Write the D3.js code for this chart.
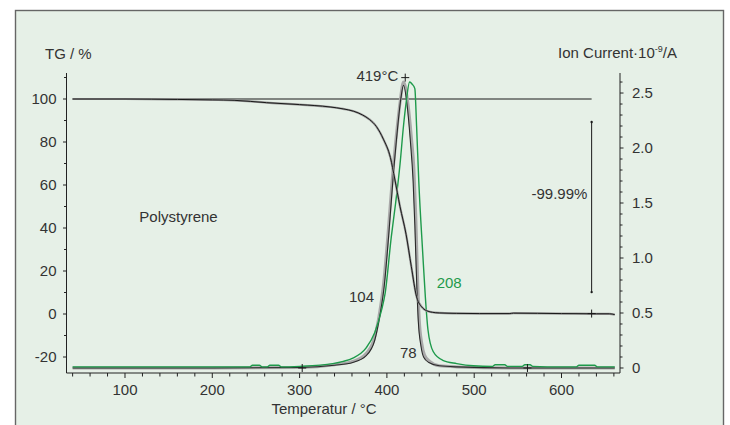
<!DOCTYPE html>
<html>
<head>
<meta charset="utf-8">
<script src="https://cdn.jsdelivr.net/npm/d3@7"></script>
<style>
  html, body { margin: 0; padding: 0; background: #ffffff; }
  svg { display: block; font-family: "Liberation Sans", Arial, sans-serif; }
</style>
</head>
<body>
<svg id="chart" width="730" height="425"></svg>
<script>
// ---------------- data ----------------
const xTicks = [100, 200, 300, 400, 500, 600];
const tgTicks = [-20, 0, 20, 40, 60, 80, 100];
const icTicks = [0, 0.5, 1.0, 1.5, 2.0, 2.5];
const icTickLabels = ["0", "0.5", "1.0", "1.5", "2.0", "2.5"];

// TG curve (temperature °C, mass %)
const tgTemp = [40, 100, 160, 200, 225, 262, 300, 335, 350, 362, 372, 380, 388, 396, 404, 409, 415, 422, 428, 434, 441, 447, 452, 460, 480, 506, 540, 545, 600, 640, 655, 661];
const tgMass = [100, 100, 99.8, 99.6, 99.4, 98.3, 97.4, 96.3, 95.4, 94.3, 92.6, 90.5, 87.2, 81.3, 72.8, 62.8, 50, 37, 22, 8, 2.8, 1.3, 0.8, 0.5, 0.3, 0.2, 0.2, 0.4, 0.2, 0.1, 0.1, -0.3];

// Ion current m/z 104 (grey)
const ic104Temp = [40, 100, 200, 300, 340, 361, 376, 386, 392, 396, 401, 407, 410, 415, 419, 424, 428, 431, 433, 435, 437, 440, 443, 449, 460, 480, 550, 620, 661];
const ic104Val  = [0, 0, 0, 0.005, 0.03, 0.06, 0.13, 0.28, 0.52, 0.75, 1.19, 1.8, 2.05, 2.41, 2.6, 2.41, 2.1, 1.8, 1.4, 0.85, 0.45, 0.22, 0.12, 0.06, 0.02, 0.01, 0, 0, 0];

// Ion current m/z 78 (black)
const ic78Temp = [40, 100, 200, 300, 340, 361, 376, 386, 392, 397, 402, 408, 411, 416, 419, 423, 427, 430, 432, 434, 436, 439, 442, 448, 460, 480, 550, 620, 661];
const ic78Val  = [0, 0, 0, 0.005, 0.025, 0.05, 0.11, 0.25, 0.48, 0.75, 1.2, 1.82, 2.08, 2.45, 2.57, 2.4, 2.05, 1.7, 1.3, 0.8, 0.42, 0.2, 0.1, 0.05, 0.02, 0.01, 0, 0, 0];

// Ion current m/z 208 (green)
const ic208Temp = [40, 100, 150, 200, 243, 246, 254, 257, 263, 266, 276, 279, 300, 338, 350, 361, 376, 386, 394, 398, 405, 410, 415, 419, 422, 426, 429, 432, 434, 436.5, 441, 444, 447, 453, 464, 480, 499, 521, 524, 535, 538, 555, 558, 564, 567, 600, 617, 620, 638, 641, 661];
const ic208Val  = [0.01, 0.01, 0.01, 0.01, 0.01, 0.025, 0.025, 0.01, 0.01, 0.025, 0.025, 0.01, 0.015, 0.04, 0.06, 0.09, 0.18, 0.32, 0.53, 0.68, 1.19, 1.5, 1.85, 2.2, 2.41, 2.6, 2.58, 2.54, 2.2, 1.7, 1.05, 0.65, 0.35, 0.15, 0.07, 0.04, 0.02, 0.015, 0.03, 0.03, 0.015, 0.015, 0.03, 0.03, 0.015, 0.01, 0.01, 0.025, 0.025, 0.01, 0.01];

// reference line TG = 100 %
const refLineTemp = [40, 634.5];
const refLineMass = 100;

// mass step annotation
const stepTemp = 634.5;
const stepFrom = 89.3;
const stepTo = 10.2;

// cross markers
const crossTG = [[634.5, 0.2]];
const crossIC = [[421, 2.64], [303, 0], [561, 0]];

// text annotations
const notes = [
  { text: "419°C",      T: 413,   v: 2.61, axis: "R", anchor: "end",   color: "#333" },
  { text: "Polystyrene", T: 116.4, v: 42.9, axis: "L", anchor: "start", color: "#333" },
  { text: "104",        T: 356.6, v: 0.6,  axis: "R", anchor: "start", color: "#333" },
  { text: "78",         T: 415,   v: 0.088, axis: "R", anchor: "start", color: "#333" },
  { text: "208",        T: 457,   v: 0.725, axis: "R", anchor: "start", color: "#1f9a4c" },
  { text: "-99.99%",    T: 629.6, v: 53.5, axis: "L", anchor: "end",   color: "#333" }
];

// ---------------- layout ----------------
const svg = d3.select("#chart");
const textColor = "#333";
const fs = 15;

svg.append("rect")
  .attr("x", 15.5).attr("y", 10.5)
  .attr("width", 708).attr("height", 430)
  .attr("fill", "#e6f0e7")
  .attr("stroke", "#666").attr("stroke-width", 1.4);

const x = d3.scaleLinear().domain([33, 667]).range([66.5, 620]);
const yL = d3.scaleLinear().domain([-27.44, 112.1]).range([373, 73]);
const yR = d3.scaleLinear().domain([-0.0455, 2.682]).range([373, 73]);

// axes lines
const axisColor = "#222";
const g = svg.append("g");
g.append("line").attr("x1", x.range()[0]).attr("x2", x.range()[0]).attr("y1", 73).attr("y2", 373)
  .attr("stroke", axisColor).attr("stroke-width", 1);
g.append("line").attr("x1", x.range()[1]).attr("x2", x.range()[1]).attr("y1", 73).attr("y2", 373)
  .attr("stroke", axisColor).attr("stroke-width", 1);
g.append("line").attr("x1", x.range()[0]).attr("x2", x.range()[1]).attr("y1", 373).attr("y2", 373)
  .attr("stroke", axisColor).attr("stroke-width", 1);

// x ticks
const xMinor = d3.range(40, 661, 20);
g.selectAll(".xt").data(xMinor).join("line")
  .attr("x1", d => x(d)).attr("x2", d => x(d))
  .attr("y1", 373).attr("y2", d => 373 + (d % 100 === 0 ? 5 : 3.5))
  .attr("stroke", axisColor).attr("stroke-width", 1);
g.selectAll(".xl").data(xTicks).join("text")
  .attr("x", d => x(d)).attr("y", 395)
  .attr("text-anchor", "middle").attr("font-size", fs).attr("fill", textColor)
  .text(d => d);

// left ticks
const lMinor = d3.range(-20, 111, 10);
g.selectAll(".lt").data(lMinor).join("line")
  .attr("x1", x.range()[0]).attr("x2", d => x.range()[0] - (d % 20 === 0 ? 3.5 : 2.5))
  .attr("y1", d => yL(d)).attr("y2", d => yL(d))
  .attr("stroke", axisColor).attr("stroke-width", 1);
g.selectAll(".ll").data(tgTicks).join("text")
  .attr("x", 56.5).attr("y", d => yL(d)).attr("dy", "0.35em")
  .attr("text-anchor", "end").attr("font-size", fs).attr("fill", textColor)
  .text(d => d);

// right ticks
const rMinor = d3.range(0, 27).map(i => i / 10);
g.selectAll(".rt").data(rMinor).join("line")
  .attr("x1", x.range()[1]).attr("x2", (d, i) => x.range()[1] + (i % 5 === 0 ? 3.5 : 2.5))
  .attr("y1", d => yR(d)).attr("y2", d => yR(d))
  .attr("stroke", axisColor).attr("stroke-width", 1);
g.selectAll(".rl").data(icTicks).join("text")
  .attr("x", 632).attr("y", d => yR(d)).attr("dy", "0.35em")
  .attr("text-anchor", "start").attr("font-size", fs).attr("fill", textColor)
  .text((d, i) => icTickLabels[i]);

// axis titles
svg.append("text").attr("x", 45).attr("y", 59).attr("font-size", fs).attr("fill", textColor).text("TG / %");
const rt = svg.append("text").attr("x", 677).attr("y", 58).attr("text-anchor", "end")
  .attr("font-size", fs).attr("fill", textColor);
rt.append("tspan").text("Ion Current\u00B710");
rt.append("tspan").attr("dy", -6).attr("font-size", 9).text("-9");
rt.append("tspan").attr("dy", 6).text("/A");
svg.append("text").attr("x", 324).attr("y", 414).attr("text-anchor", "middle")
  .attr("font-size", fs).attr("fill", textColor).text("Temperatur / °C");

// ---------------- curves ----------------
const lineL = d3.line().x(d => x(d[0])).y(d => yL(d[1])).curve(d3.curveMonotoneX);
const lineR = d3.line().x(d => x(d[0])).y(d => yR(d[1])).curve(d3.curveMonotoneX);

// reference line
svg.append("line")
  .attr("x1", x(refLineTemp[0])).attr("x2", x(refLineTemp[1]))
  .attr("y1", yL(refLineMass)).attr("y2", yL(refLineMass))
  .attr("stroke", "#1a1a1a").attr("stroke-width", 1);

const ic104 = d3.zip(ic104Temp, ic104Val);
const ic78 = d3.zip(ic78Temp, ic78Val);
const ic208 = d3.zip(ic208Temp, ic208Val);
const tg = d3.zip(tgTemp, tgMass);

svg.append("path").datum(ic104).attr("d", lineR)
  .attr("fill", "none").attr("stroke", "#a9a9a9").attr("stroke-width", 3);
svg.append("path").datum(ic78).attr("d", lineR)
  .attr("fill", "none").attr("stroke", "#2a2a2a").attr("stroke-width", 1.1);
svg.append("path").datum(ic208).attr("d", lineR)
  .attr("fill", "none").attr("stroke", "#1e9a4b").attr("stroke-width", 1.4);
svg.append("path").datum(tg).attr("d", lineL)
  .attr("fill", "none").attr("stroke", "#999").attr("stroke-width", 2.2);
svg.append("path").datum(tg).attr("d", lineL)
  .attr("fill", "none").attr("stroke", "#1a1a1a").attr("stroke-width", 1);

// step annotation
svg.append("line")
  .attr("x1", x(stepTemp)).attr("x2", x(stepTemp))
  .attr("y1", yL(stepFrom)).attr("y2", yL(stepTo))
  .attr("stroke", "#1a1a1a").attr("stroke-width", 1);
[stepFrom, stepTo].forEach(v => {
  svg.append("circle").attr("cx", x(stepTemp)).attr("cy", yL(v)).attr("r", 1.2).attr("fill", "#1a1a1a");
});

// crosses
function cross(px, py) {
  svg.append("line").attr("x1", px - 4).attr("x2", px + 4).attr("y1", py).attr("y2", py)
    .attr("stroke", "#1a1a1a").attr("stroke-width", 1);
  svg.append("line").attr("x1", px).attr("x2", px).attr("y1", py - 4).attr("y2", py + 4)
    .attr("stroke", "#1a1a1a").attr("stroke-width", 1);
}
crossTG.forEach(d => cross(x(d[0]), yL(d[1])));
crossIC.forEach(d => cross(x(d[0]), yR(d[1])));

// notes
svg.selectAll(".note").data(notes).join("text")
  .attr("x", d => x(d.T))
  .attr("y", d => d.axis === "L" ? yL(d.v) : yR(d.v))
  .attr("text-anchor", d => d.anchor)
  .attr("font-size", fs)
  .attr("fill", d => d.color)
  .text(d => d.text);
</script>
</body>
</html>
